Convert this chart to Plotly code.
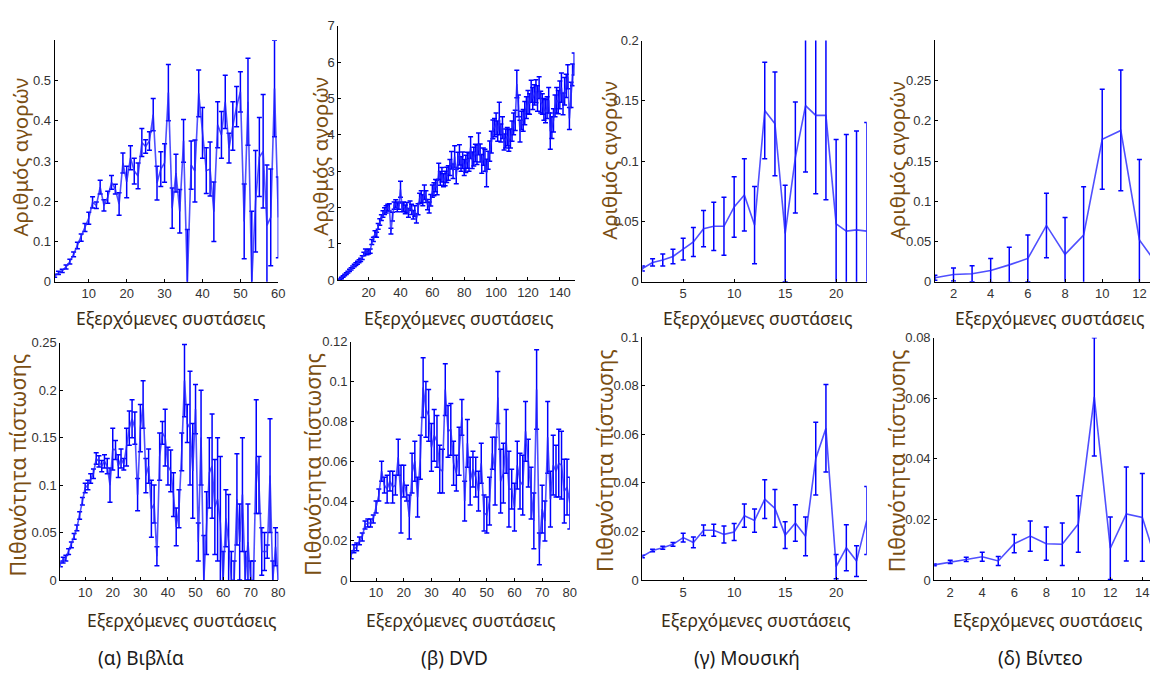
import plotly.graph_objects as go

W, H = 1157, 678

# ---------------- data ----------------
books_buy = [.015, .022, .027, .037, .05, .068, .09, .11, .135, .158,
             .197, .19, .235, .19, .21, .247, .23, .193, .295, .248,
             .308, .275, .263, .346, .336, .35, .415, .245, .28, .295,
             .47, .183, .27, .175, .35, .0, .29, .275, .468, .37,
             .276, .28, .174, .39, .365, .447, .332, .387, .435, .472,
             .15, .447, .0, .2, .31, .324, .14, .16, .48, .16]
books_buy_err = [.004, .004, .004, .005, .006, .006, .008, .009, .01, .015,
                 .014, .008, .017, .014, .015, .017, .012, .028, .025, .039,
                 .03, .032, .032, .035, .017, .023, .04, .042, .043, .048,
                 .07, .05, .047, .054, .053, .13, .06, .077, .058, .063,
                 .057, .067, .074, .057, .058, .066, .037, .06, .05, .05,
                 .093, .108, .175, .126, .098, .141, .15, .12, .12, .1]

dvd_buy = [0.01, 0.03, 0.06, 0.1, 0.14, 0.18, 0.22, 0.27, 0.31, 0.36,
           0.4, 0.44, 0.48, 0.52, 0.56, 0.62, 0.72, 0.8, 0.75, 0.78,
           0.8, 1.05, 1.12, 1.28, 1.25, 1.48, 1.6, 1.72, 1.82, 1.9,
           1.95, 2.0, 2.0, 1.35, 1.75, 2.05, 2.1, 2.0, 2.05, 2.5,
           2.0, 2.02, 1.95, 2.0, 1.85, 2.05, 1.95, 1.8, 1.9, 1.7,
           1.95, 2.25, 2.3, 2.2, 2.42, 2.3, 2.08, 2.0, 2.2, 2.45,
           2.5, 2.6, 2.55, 3.0, 2.8, 2.9, 2.75, 2.8, 2.9, 2.95,
           3.1, 3.3, 3.0, 3.4, 2.85, 3.3, 3.45, 3.2, 3.3, 3.1,
           3.2, 3.3, 3.25, 3.65, 3.3, 3.4, 3.5, 3.45, 3.75, 3.5,
           3.2, 3.4, 3.3, 2.95, 3.3, 3.55, 3.8, 4.15, 4.2, 4.3,
           4.1, 4.45, 4.05, 4.2, 3.8, 3.9, 3.95, 3.85, 3.9, 4.1,
           4.3, 4.4, 5.4, 4.8, 4.1, 4.4, 4.4, 4.6, 4.75, 4.9,
           4.85, 5.2, 5.0, 5.1, 5.2, 5.0, 5.3, 4.9, 4.85, 4.7,
           4.65, 4.75, 4.95, 4.1, 4.2, 4.4, 4.8, 4.95, 4.9, 5.1,
           5.3, 4.85, 5.2, 5.35, 5.6, 4.45, 5.1, 5.65, 5.95]
dvd_buy_err = [0.01, 0.015, 0.02, 0.02, 0.02, 0.025, 0.025, 0.03, 0.03, 0.03,
               0.035, 0.035, 0.04, 0.04, 0.045, 0.05, 0.05, 0.06, 0.055, 0.06,
               0.06, 0.07, 0.06, 0.08, 0.07, 0.08, 0.09, 0.08, 0.09, 0.09,
               0.1, 0.09, 0.1, 0.08, 0.12, 0.1, 0.11, 0.12, 0.1, 0.22,
               0.12, 0.13, 0.12, 0.14, 0.12, 0.13, 0.14, 0.12, 0.15, 0.13,
               0.15, 0.14, 0.16, 0.15, 0.2, 0.16, 0.14, 0.15, 0.16, 0.17,
               0.18, 0.17, 0.2, 0.22, 0.19, 0.2, 0.18, 0.2, 0.21, 0.2,
               0.22, 0.24, 0.2, 0.3, 0.2, 0.22, 0.28, 0.2, 0.23, 0.22,
               0.24, 0.22, 0.25, 0.3, 0.23, 0.26, 0.24, 0.27, 0.3, 0.25,
               0.26, 0.24, 0.3, 0.38, 0.25, 0.28, 0.3, 0.26, 0.25, 0.3,
               0.28, 0.45, 0.25, 0.3, 0.22, 0.26, 0.25, 0.3, 0.26, 0.28,
               0.3, 0.28, 0.38, 0.3, 0.3, 0.25, 0.3, 0.32, 0.3, 0.32,
               0.28, 0.3, 0.3, 0.28, 0.32, 0.35, 0.3, 0.3, 0.28, 0.3,
               0.32, 0.3, 0.35, 0.5, 0.3, 0.32, 0.3, 0.35, 0.32, 0.38,
               0.4, 0.3, 0.38, 0.32, 0.33, 0.3, 0.35, 0.3, 0.3]

music_buy = [.011, .016, .018, .021, .027, .033, .044, .046, .046, .062,
             .072, .047, .142, .131, .04, .103, .146, .138, .138, .048,
             .042, .043, .042]
music_buy_err = [.002, .003, .005, .006, .009, .012, .015, .02, .024, .025,
                 .03, .032, .04, .043, .04, .046, .055, .065, .07, .07,
                 .08, .082, .09]

video_buy = [.005, .009, .01, .014, .021, .029, .07, .034, .058, .177,
             .188, .052, .02]
video_buy_err = [.003, .008, .01, .015, .022, .029, .04, .046, .06, .062,
                 .075, .1, .1]

books_rate = [.017, .021, .023, .03, .037, .046, .055, .068, .083, .097,
              .1, .107, .112, .128, .125, .12, .125, .12, .1, .138,
              .137, .12, .128, .122, .14, .16, .17, .16, .09, .16,
              .185, .11, .12, .075, .08, .025, .13, .155, .15, .12,
              .115, .09, .056, .075, .135, .21, .165, .16, .115, .18,
              .04, .15, .0, .06, .113, .12, .077, .085, .06, .0,
              .065, .04, .0, .0, .085, .04, .09, .0, .04, .0,
              .0, .13, .1, .03, .03, .03, .11, .0, .035, .0]
books_rate_err = [.003, .003, .003, .003, .003, .003, .003, .004, .004, .005,
                  .005, .005, .005, .006, .006, .006, .007, .008, .018, .022,
                  .01, .012, .01, .006, .02, .018, .02, .017, .017, .025,
                  .025, .018, .018, .03, .02, .01, .025, .012, .03, .02,
                  .022, .023, .02, .02, .02, .038, .02, .06, .05, .026,
                  .02, .05, .047, .033, .037, .055, .05, .065, .07, .03,
                  .03, .05, .03, .02, .048, .04, .06, .03, .04, .02,
                  .02, .06, .03, .025, .02, .007, .06, .02, .02, .05]

dvd_rate = [.013, .016, .017, .02, .022, .028, .029, .029, .031, .037,
            .043, .055, .048, .046, .05, .047, .048, .062, .041, .05,
            .044, .032, .054, .06, .042, .062, .097, .086, .083, .067,
            .073, .07, .056, .055, .096, .075, .076, .059, .054, .065,
            .082, .04, .069, .05, .056, .052, .045, .059, .034, .033,
            .04, .064, .055, .092, .05, .054, .07, .046, .046, .037,
            .058, .05, .048, .075, .059, .044, .03, .096, .016, .036,
            .03, .072, .041, .058, .055, .059, .058, .045, .047, .039]
dvd_rate_err = [.002, .002, .002, .002, .002, .002, .002, .002, .002, .003,
                .003, .005, .004, .007, .005, .008, .005, .009, .017, .008,
                .004, .011, .01, .01, .01, .011, .015, .014, .013, .012,
                .013, .013, .012, .011, .013, .013, .013, .011, .009, .012,
                .009, .01, .012, .012, .009, .01, .01, .01, .009, .009,
                .012, .008, .017, .013, .016, .015, .016, .019, .01, .012,
                .012, .014, .015, .015, .012, .013, .014, .02, .008, .012,
                .01, .018, .014, .015, .013, .017, .017, .016, .014, .013]

music_rate = [.0097, .0122, .0133, .0147, .0175, .0155, .0205, .0205, .0188, .0198,
              .0265, .0245, .0333, .0295, .0185, .0235, .018, .05, .0625, .0055,
              .0133, .0078, .0245]
music_rate_err = [.0005, .0005, .0006, .0008, .0018, .0022, .0022, .0025, .0035, .0035,
                  .0048, .0048, .008, .0078, .0055, .0075, .008, .015, .018, .005,
                  .0095, .0063, .014]

video_rate = [.005, .006, .0068, .0077, .0063, .012, .0145, .012, .0118, .0185,
              .0605, .0105, .0218, .0207, .004]
video_rate_err = [.0003, .0005, .0007, .0015, .0015, .003, .005, .0055, .007, .0093,
                  .0195, .0103, .0155, .0145, .01]

y_title_top = "Αριθμός αγορών"
y_title_bot = "Πιθανότητα πίστωσης"
x_title = "Εξερχόμενες συστάσεις"
subtitles = ["(α) Βιβλία", "(β) DVD", "(γ) Μουσική", "(δ) Βίντεο"]

xtick_sets = [[10, 20, 30, 40, 50, 60], [20, 40, 60, 80, 100, 120, 140], [5, 10, 15, 20],
              [2, 4, 6, 8, 10, 12], [10, 20, 30, 40, 50, 60, 70, 80],
              [10, 20, 30, 40, 50, 60, 70, 80], [5, 10, 15, 20], [2, 4, 6, 8, 10, 12, 14]]
ytick_sets = [[0, .1, .2, .3, .4, .5], [0, 1, 2, 3, 4, 5, 6, 7], [0, .05, .1, .15, .2],
              [0, .05, .1, .15, .2, .25], [0, .05, .1, .15, .2, .25],
              [0, .02, .04, .06, .08, .1, .12], [0, .02, .04, .06, .08, .1], [0, .02, .04, .06, .08]]
ytick_text = [["0", "0.1", "0.2", "0.3", "0.4", "0.5"], ["0", "1", "2", "3", "4", "5", "6", "7"],
              ["0", "0.05", "0.1", "0.15", "0.2"], ["0", "0.05", "0.1", "0.15", "0.2", "0.25"],
              ["0", "0.05", "0.1", "0.15", "0.2", "0.25"],
              ["0", "0.02", "0.04", "0.06", "0.08", "0.1", "0.12"],
              ["0", "0.02", "0.04", "0.06", "0.08", "0.1"], ["0", "0.02", "0.04", "0.06", "0.08"]]

series = [(books_buy, books_buy_err), (dvd_buy, dvd_buy_err), (music_buy, music_buy_err),
          (video_buy, video_buy_err), (books_rate, books_rate_err), (dvd_rate, dvd_rate_err),
          (music_rate, music_rate_err), (video_rate, video_rate_err)]

# ---------------- layout geometry (pixels) ----------------
xdom_px = [(55, 280), (340.4, 578), (646.3, 872), (940.6, 1157),
           (60.7, 280), (353.3, 573.3), (646.3, 872), (939.9, 1157)]
ydom_px = [(34, 281), (19.3, 279.3), (34.3, 281), (34, 281),
           (343.3, 586), (342.3, 586.7), (337.7, 586), (338.3, 586)]
xranges = [[1, 60], [1, 149.2], [1, 23], [1, 12.57], [1, 80], [1, 80], [1, 23], [1, 14.48]]
yranges = [[0, 0.6], [0, 7], [0, 0.2], [0, 0.3], [0, 0.25], [0, 0.12], [0, 0.1], [0, 0.08]]

tick_font = dict(family="Liberation Sans Narrow, Arial Narrow, Liberation Sans, Arial, sans-serif",
                 size=13, color="#333333")
title_family = "Noto Sans, Open Sans, DejaVu Sans, sans-serif"

fig = go.Figure()
layout = dict(width=W, height=H, margin=dict(l=0, r=0, t=0, b=0),
              paper_bgcolor="white", plot_bgcolor="white", showlegend=False)

for i, (vals, errs) in enumerate(series):
    k = i + 1
    xs = list(range(1, len(vals) + 1))
    fig.add_trace(go.Scatter(
        x=xs, y=vals, mode="lines",
        line=dict(color="rgba(35,35,255,0.8)", width=1.6),
        error_y=dict(type="data", array=errs, visible=True, color="#0000ff",
                     thickness=1.5, width=2.5),
        xaxis=f"x{k}", yaxis=f"y{k}", hoverinfo="x+y"))
    x0, x1 = xdom_px[i]
    yt, yb = ydom_px[i]
    ax = dict(domain=[x0 / W, min(1.0, x1 / W)], range=xranges[i],
              anchor=f"y{k}", showline=True, linecolor="black", linewidth=1,
              ticks="inside", ticklen=3, tickcolor="black", tickmode="array",
              tickvals=xtick_sets[i], showgrid=False, zeroline=False,
              tickfont=tick_font, mirror=False)
    ay = dict(domain=[1 - yb / H, 1 - yt / H], range=yranges[i],
              anchor=f"x{k}", showline=True, linecolor="black", linewidth=1,
              ticks="inside", ticklen=3, tickcolor="black", tickmode="array",
              tickvals=ytick_sets[i], ticktext=ytick_text[i], showgrid=False,
              zeroline=False, tickfont=tick_font, mirror=False)
    layout[f"xaxis{k}" if k > 1 else "xaxis"] = ax
    layout[f"yaxis{k}" if k > 1 else "yaxis"] = ay

annotations = []
# y-axis titles
ytitle_x = [20, 322, 612, 902, 18, 315, 608, 902]
ytitle_y = [153, 153, 157, 157, 468, 468, 464, 464]
for i in range(8):
    annotations.append(dict(
        text=y_title_top if i < 4 else y_title_bot,
        x=ytitle_x[i] / W, y=1 - ytitle_y[i] / H, xref="paper", yref="paper",
        xanchor="center", yanchor="middle", textangle=-90, showarrow=False,
        font=dict(family=title_family, size=20.5 if i < 4 else 21.5, color="#7a4e12")))
# x-axis titles
xtitle_x = [172, 462, 763, 1056, 183, 464, 761, 1054]
xtitle_y = [318, 318, 318, 318, 627, 627, 627, 627]
for i in range(8):
    annotations.append(dict(
        text=x_title, x=xtitle_x[i] / W, y=1 - xtitle_y[i] / H,
        xref="paper", yref="paper", xanchor="center", yanchor="middle",
        showarrow=False, font=dict(family=title_family, size=17.5, color="#3a2c14")))
# subtitles
sub_x = [142, 457, 752, 1047]
for i in range(4):
    annotations.append(dict(
        text=subtitles[i], x=sub_x[i] / W, y=1 - 666 / H, xref="paper", yref="paper",
        xanchor="center", yanchor="middle", showarrow=False,
        font=dict(family=title_family, size=19, color="#1a1a1a")))
layout["annotations"] = annotations

fig.update_layout(**layout)
fig.write_html("out.html", config={"displayModeBar": False},
               post_script="document.body.style.margin='0';")
